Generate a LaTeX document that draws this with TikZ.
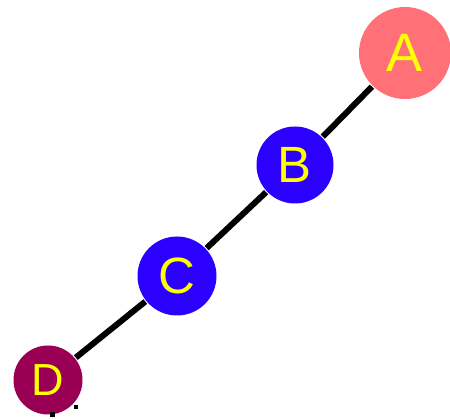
\documentclass[tikz,border=0pt]{standalone}
\usepackage{fontspec}
\setmainfont{Liberation Sans}
\definecolor{cA}{HTML}{FF7177}
\definecolor{cB}{HTML}{2B00FF}
\definecolor{cD}{HTML}{990055}
\definecolor{txt}{HTML}{FFFF00}
\begin{document}
\begin{tikzpicture}[x=1pt,y=-1pt,
  vert/.style={circle,inner sep=0pt,text=txt},
  edge/.style={draw=black,line width=6pt,shorten <=1pt,shorten >=1pt},
  dot/.style={fill=black}]
\useasboundingbox (0,0) rectangle (450,419);
\begin{scope}
\clip (0,0) rectangle (450,419);
\node[vert,fill=cA,minimum size=92pt,font=\fontsize{54}{54}\selectfont] (A) at (405,53) {A};
\node[vert,fill=cB,minimum size=77pt,font=\fontsize{51}{51}\selectfont] (B) at (295,165) {B};
\node[vert,fill=cB,minimum size=79pt,font=\fontsize{51}{51}\selectfont] (C) at (177,276) {C};
\node[vert,fill=cD,minimum size=69pt,font=\fontsize{45}{45}\selectfont] (D) at (48,380) {D};
\draw[edge] (A) -- (B);
\draw[edge] (B) -- (C);
\draw[edge] (C) -- (D);
\coordinate (d1) at (50,412);
\coordinate (d2) at (55,417);
\coordinate (d3) at (74,405);
\coordinate (d4) at (78,409);
\fill[dot] (d1) rectangle (d2);
\fill[dot] (d3) rectangle (d4);
\end{scope}
\end{tikzpicture}
\end{document}
